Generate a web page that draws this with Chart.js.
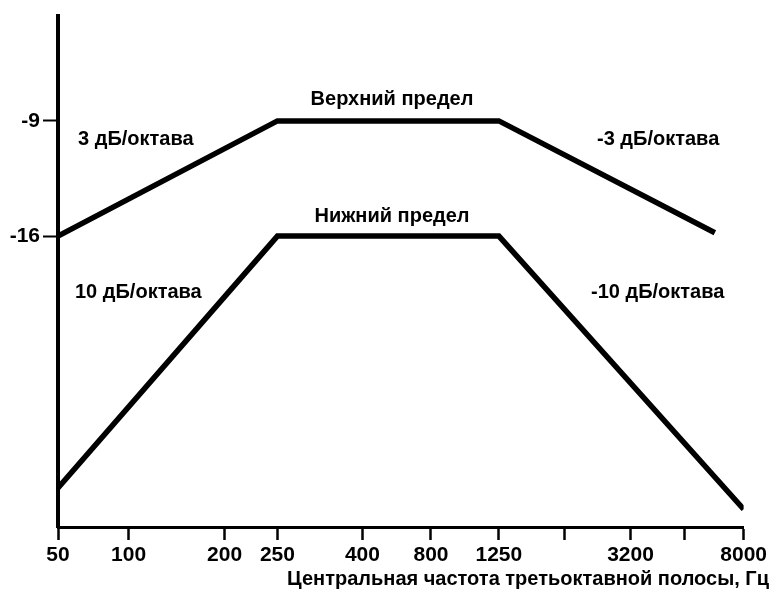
<!DOCTYPE html>
<html>
<head>
<meta charset="utf-8">
<script src="https://cdn.jsdelivr.net/npm/chart.js@4.4.1/dist/chart.umd.min.js"></script>
<style>
  html, body { margin: 0; padding: 0; background: #fff; }
  #wrap { width: 770px; height: 592px; }
</style>
</head>
<body>
<div id="wrap"><canvas id="limits"></canvas></div>
<script>
// x axis is schematic (not a true log scale): each frequency sits on its own slot
const freqLabels = ['50', '100', '200', '250', '400', '800', '1250', '', '3200', '', '8000'];
const freqSlot = [0, 10.3, 24.3, 32.0, 44.4, 54.4, 64.3, 73.9, 83.5, 91.4, 100];
const levelTicks = [-9, -16];

// upper / lower limit curves, dB (slot, level)
const upperSlot = [0, 32.0, 64.3, 95.8];
const upperLevel = [-16, -9, -9, -15.8];
const lowerSlot = [0, 32.0, 64.3, 100];
const lowerLevel = [-31.3, -16, -16, -32.6];

const family = '"Liberation Sans", Arial, sans-serif';
const font = 'bold 20px ' + family;

const toPoints = (xs, ys) => xs.map((x, i) => ({ x: x, y: ys[i] }));

// free text on the drawing (slope notes, curve names, axis caption)
const notes = {
  id: 'notes',
  afterDraw(chart) {
    const c = chart.ctx;
    c.save();
    c.font = font;
    c.fillStyle = '#000';
    c.textBaseline = 'middle';
    c.textAlign = 'center';
    c.fillText('Верхний предел', 392, 99);
    c.fillText('Нижний предел', 392, 216);
    c.textAlign = 'left';
    c.fillText('3 дБ/октава', 78, 139);
    c.fillText('-3 дБ/октава', 597, 139);
    c.fillText('10 дБ/октава', 75, 292);
    c.fillText('-10 дБ/октава', 591, 292);
    c.textAlign = 'right';
    c.fillText('Центральная частота третьоктавной полосы, Гц', 769, 579);
    c.restore();
  }
};

new Chart(document.getElementById('limits'), {
  type: 'line',
  data: {
    datasets: [
      {
        label: 'Верхний предел',
        data: toPoints(upperSlot, upperLevel),
        borderColor: '#000',
        borderWidth: 5.5,
        borderJoinStyle: 'miter',
        pointRadius: 0,
        fill: false,
        tension: 0,
      },
      {
        label: 'Нижний предел',
        data: toPoints(lowerSlot, lowerLevel),
        borderColor: '#000',
        borderWidth: 5.5,
        borderJoinStyle: 'miter',
        pointRadius: 0,
        fill: false,
        tension: 0,
      },
    ],
  },
  options: {
    responsive: true,
    maintainAspectRatio: false,
    animation: false,
    layout: { padding: { top: 12, right: 25, bottom: 0, left: 0 } },
    plugins: {
      legend: { display: false },
      tooltip: { enabled: false },
    },
    scales: {
      x: {
        type: 'linear',
        min: 0,
        max: 100,
        afterBuildTicks: (axis) => { axis.ticks = freqSlot.map(v => ({ value: v })); },
        afterFit: (axis) => { axis.height = 65; },
        ticks: {
          autoSkip: false,
          maxRotation: 0,
          padding: 3,
          color: '#000',
          font: { family: family, size: 21, weight: 'bold' },
          callback: (v, i) => freqLabels[i],
        },
        grid: {
          drawOnChartArea: false,
          drawTicks: true,
          tickLength: 13,
          tickWidth: 2.5,
          tickColor: '#000',
        },
        border: { display: true, color: '#000', width: 3 },
      },
      y: {
        type: 'linear',
        min: -33.68,
        max: -2.6,
        afterBuildTicks: (axis) => { axis.ticks = levelTicks.map(v => ({ value: v })); },
        afterFit: (axis) => { axis.width = 58; },
        ticks: {
          padding: 3,
          color: '#000',
          font: { family: family, size: 21, weight: 'bold' },
        },
        grid: {
          drawOnChartArea: false,
          drawTicks: true,
          tickLength: 15,
          tickWidth: 2,
          tickColor: '#000',
        },
        border: { display: true, color: '#000', width: 4 },
      },
    },
  },
  plugins: [notes],
});
</script>
</body>
</html>
